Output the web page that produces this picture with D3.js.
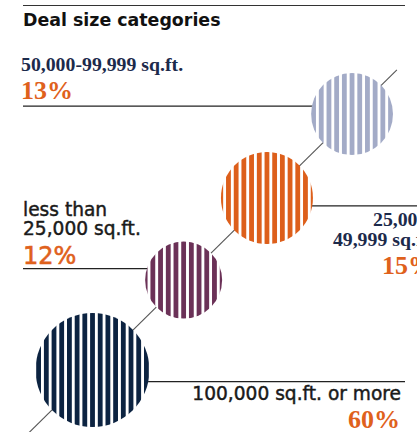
<!DOCTYPE html>
<html>
<head>
<meta charset="utf-8">
<script src="https://cdn.jsdelivr.net/npm/d3@7"></script>
<style>
  html, body { margin: 0; padding: 0; background: #fff; }
  svg { display: block; }
</style>
</head>
<body>
<svg id="chart" width="417" height="432"></svg>
<script>
// Deal size categories, ordered along the diagonal from bottom-left to top-right
const categories = ["100,000 sq.ft. or more", "less than 25,000 sq.ft.", "25,000-49,999 sq.ft.", "50,000-99,999 sq.ft."];
const shares = [60, 12, 15, 13];
const labelLines = [["100,000 sq.ft. or more"], ["less than", "25,000 sq.ft."], ["25,000-", "49,999 sq.ft."], ["50,000-99,999 sq.ft."]];
const colors = ["#0c2341", "#6b3157", "#dd5f1b", "#a3abc7"];
const title = "Deal size categories";

const W = 417, H = 432;
const svg = d3.select("#chart");
const defs = svg.append("defs");

const ORANGE = "#df611c";
const NAVY_TEXT = "#1c2a4b";
const SERIF = "'Liberation Serif', 'DejaVu Serif', serif";
const SANS = "'DejaVu Sans', sans-serif";

// bubble radius from share
const r = d3.scaleLinear().domain([12, 15, 60]).range([38.5, 46, 57]);

// bubbles are strung along a diagonal, separated by a constant gap
const angle = -44.6 * Math.PI / 180;
const dir = [Math.cos(angle), Math.sin(angle)];
const gap = 32.5;
const start = [92.5, 370];
const nodes = [];
shares.forEach((v, i) => {
  const rad = r(v);
  let c;
  if (i === 0) c = start.slice();
  else {
    const p = nodes[i - 1];
    const d = p.r + rad + gap;
    c = [p.x + dir[0] * d, p.y + dir[1] * d];
  }
  nodes.push({ i, cat: categories[i], v, r: rad, x: c[0], y: c[1], color: colors[i] });
});

// top rule and title
svg.append("line")
  .attr("x1", 23).attr("x2", 405).attr("y1", 5.5).attr("y2", 5.5)
  .attr("stroke", "#333").attr("stroke-width", 1.2);
svg.append("text")
  .attr("x", 23).attr("y", 26)
  .attr("font-family", SANS).attr("font-weight", 700).attr("font-size", 17.4)
  .attr("fill", "#111")
  .text(title);

// diagonal connector
const first = nodes[0], last = nodes[nodes.length - 1];
const back = (H + 4 - first.y) / -dir[1];
const fwd = last.r + 22;
svg.append("line")
  .attr("x1", first.x - dir[0] * back).attr("y1", first.y - dir[1] * back)
  .attr("x2", last.x + dir[0] * fwd).attr("y2", last.y + dir[1] * fwd)
  .attr("stroke", "#555").attr("stroke-width", 1.1);

// leader lines: label side and vertical offset from the bubble centre
const leader = [
  { dy: 11.7, end: 405 },
  { dy: -11.5, end: 23 },
  { dy: 8, end: W },
  { dy: -8, end: 23 }
];
nodes.forEach(n => {
  const L = leader[n.i];
  svg.append("line")
    .attr("x1", L.end).attr("x2", n.x)
    .attr("y1", n.y + L.dy).attr("y2", n.y + L.dy)
    .attr("stroke", "#222").attr("stroke-width", 1.2);
});

// striped bubbles
const period = 7.7, barW = 4.8;
nodes.forEach(n => {
  const id = "stripes" + n.i;
  const pat = defs.append("pattern")
    .attr("id", id).attr("patternUnits", "userSpaceOnUse")
    .attr("x", n.x - barW / 2).attr("y", 0)
    .attr("width", period).attr("height", 10);
  pat.append("rect").attr("width", period).attr("height", 10).attr("fill", "#fff");
  pat.append("rect").attr("width", barW).attr("height", 10).attr("fill", n.color);
  svg.append("circle")
    .attr("cx", n.x).attr("cy", n.y).attr("r", n.r)
    .attr("fill", `url(#${id})`);
});

// labels (sans labels get a hairline stroke for a medium weight)
const lab = [
  // 100,000+
  { x: 401, anchor: "end", lines: [400], lineFont: SANS, lineWeight: 400, lineSize: 18.6, lineColor: "#1a1a1a", lineStroke: 0.45,
    pctY: 428, pctX: 400, pctFont: SERIF, pctSize: 26, pctWeight: 700, pctStroke: 0 },
  // less than 25,000
  { x: 23, anchor: "start", lines: [216, 235], lineFont: SANS, lineWeight: 400, lineSize: 18.6, lineColor: "#1a1a1a", lineStroke: 0.45,
    pctY: 263.5, pctX: 23, pctFont: SANS, pctSize: 24, pctWeight: 400, pctStroke: 0.6 },
  // 25,000-49,999
  { x: 434, anchor: "end", lines: [226, 246], lineFont: SERIF, lineWeight: 700, lineSize: 19.8, lineColor: NAVY_TEXT, lineStroke: 0,
    pctY: 273.5, pctX: 434, pctFont: SERIF, pctSize: 26, pctWeight: 700, pctStroke: 0 },
  // 50,000-99,999
  { x: 21, anchor: "start", lines: [71], lineFont: SERIF, lineWeight: 700, lineSize: 19.8, lineColor: NAVY_TEXT, lineStroke: 0,
    pctY: 99, pctX: 21, pctFont: SERIF, pctSize: 26, pctWeight: 700, pctStroke: 0 }
];
nodes.forEach(n => {
  const s = lab[n.i];
  const g = svg.append("g");
  labelLines[n.i].forEach((t, k) => {
    g.append("text")
      .attr("x", s.x).attr("y", s.lines[k])
      .attr("text-anchor", s.anchor)
      .attr("font-family", s.lineFont).attr("font-weight", s.lineWeight)
      .attr("font-size", s.lineSize).attr("fill", s.lineColor)
      .attr("stroke", s.lineStroke ? s.lineColor : "none")
      .attr("stroke-width", s.lineStroke)
      .text(t);
  });
  g.append("text")
    .attr("x", s.pctX).attr("y", s.pctY)
    .attr("text-anchor", s.anchor)
    .attr("font-family", s.pctFont).attr("font-weight", s.pctWeight)
    .attr("font-size", s.pctSize).attr("fill", ORANGE)
    .attr("stroke", s.pctStroke ? ORANGE : "none")
    .attr("stroke-width", s.pctStroke)
    .text(d3.format("d")(n.v) + "%");
});
</script>
</body>
</html>
